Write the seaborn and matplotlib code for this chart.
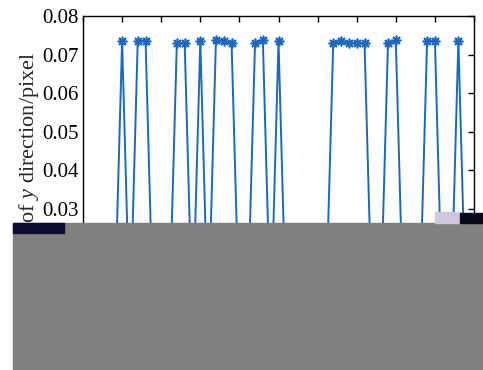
import numpy as np
import pandas as pd
import matplotlib
matplotlib.use('Agg')
import matplotlib.pyplot as plt
from matplotlib.patches import Rectangle
import seaborn as sns

# ========== DATA ==========
frame = list(range(1, 51))
err_y = [0.0, 0.0, 0.0, 0.0, 0.0735, 0.0, 0.0736, 0.0736, 0.0, 0.0,
         0.0, 0.0730, 0.0730, 0.0, 0.0736, 0.0, 0.0738, 0.0736, 0.0731, 0.0,
         0.0, 0.0730, 0.0737, 0.0, 0.0735, 0.0, 0.0, 0.0, 0.0, 0.0,
         0.0, 0.0730, 0.0736, 0.0730, 0.0730, 0.0730, 0.0, 0.0, 0.0730, 0.0737,
         0.0, 0.0, 0.0, 0.0736, 0.0736, 0.0, 0.0, 0.0736, 0.0, 0.0]
y_ticks = [0.0, 0.01, 0.02, 0.03, 0.04, 0.05, 0.06, 0.07, 0.08]
x_ticks = list(range(0, 51, 5))

df = pd.DataFrame({'frame': frame, 'err': err_y})

sns.set_style('white')
plt.rcParams['font.family'] = 'serif'
plt.rcParams['font.serif'] = ['Liberation Serif', 'Times New Roman', 'DejaVu Serif']
plt.rcParams['mathtext.fontset'] = 'custom'
plt.rcParams['mathtext.rm'] = 'Liberation Serif'
plt.rcParams['mathtext.it'] = 'Liberation Serif:italic'

fig = plt.figure(figsize=(4.83, 3.70), dpi=100)
ax = fig.add_axes([83 / 483, 1 - 324 / 370, (474 - 83) / 483, (324 - 16) / 370])

sns.lineplot(data=df, x='frame', y='err', ax=ax, color='#1b68c0', linewidth=1.4,
             marker=(8, 2, 0), markersize=7, markeredgewidth=1.2,
             markeredgecolor='#1b68c0', markerfacecolor='#1b68c0')

ax.set_xlim(0, 50)
ax.set_ylim(0, 0.08)
ax.set_xticks(x_ticks)
ax.set_yticks(y_ticks)
ax.set_yticklabels([f'{v:.2f}' for v in y_ticks])
ax.tick_params(direction='in', length=4, width=1, top=True, right=True,
               labelsize=15, colors='black', pad=3)
for s in ax.spines.values():
    s.set_color('black')
    s.set_linewidth(1.0)
ax.set_xlabel('Frame', fontsize=15, labelpad=1)
ax.set_ylabel('Error of $y$ direction/pixel', fontsize=16)
ax.yaxis.set_label_coords(-0.108, 0.522)

# occluding blocks as they appear in the reference picture
fig.add_artist(Rectangle((13 / 483, 0), 470 / 483, (370 - 223) / 370,
                         transform=fig.transFigure, color='#808080', zorder=10))
fig.add_artist(Rectangle((13 / 483, 1 - 233 / 370), 51 / 483, 10 / 370,
                         transform=fig.transFigure, color='#0c0c30', zorder=11))
fig.add_artist(Rectangle((435 / 483, 1 - 223 / 370), 25 / 483, 11 / 370,
                         transform=fig.transFigure, color='#d0c8e0', zorder=11))
fig.add_artist(Rectangle((460 / 483, 1 - 223 / 370), 23 / 483, 10 / 370,
                         transform=fig.transFigure, color='#08081a', zorder=11))

fig.savefig('out.png', dpi=100)
